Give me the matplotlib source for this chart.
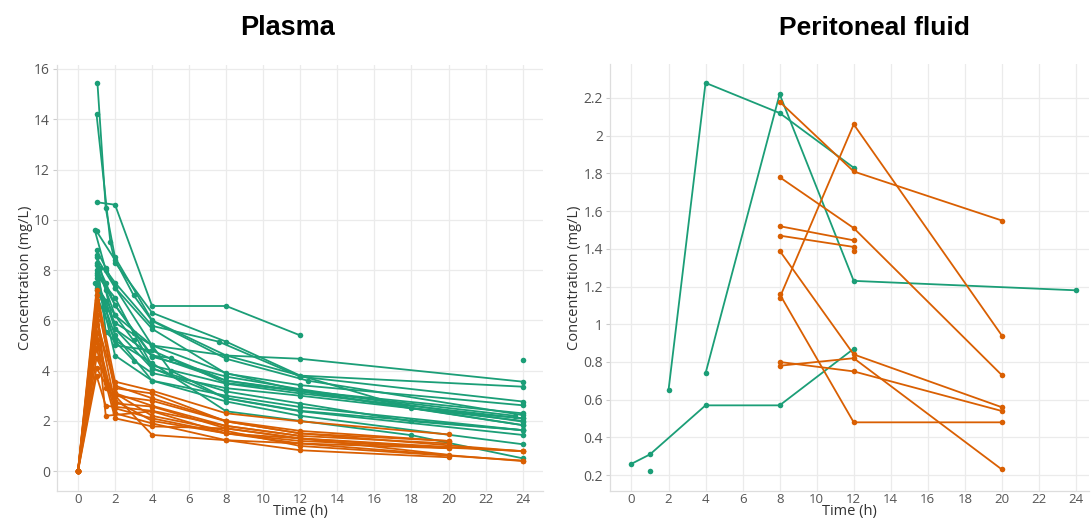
import matplotlib.pyplot as plt
from matplotlib.ticker import FuncFormatter, MultipleLocator

teal = "#1b9e77"
orange = "#d95f02"

# Plasma, group 1 (teal): sampling times and concentrations per subject
plasmaTealTimes = [
    [1, 2, 4, 8, 12],
    [1.05, 1.5, 2, 4, 8, 12, 24],
    [1, 1.75, 2, 4, 8, 12, 24],
    [0.9, 1.5, 2, 4, 7.6, 12, 24],
    [1, 2, 3, 4, 8, 12.4, 24],
    [1, 1.5, 2, 4, 8, 12, 24],
    [1, 2, 4, 8, 12, 18, 24],
    [1, 1.5, 2, 4, 8, 12, 24],
    [1, 2, 4, 8, 12, 24],
    [1, 2, 3, 4, 8, 12, 24],
    [0.9, 1.5, 2, 4, 8, 12, 18, 24],
    [1, 2, 4, 5, 8, 12, 24],
    [1, 1.5, 2, 4, 8, 12, 24],
    [1, 2, 4, 8, 12, 18, 24],
    [1, 1.5, 3, 4, 8, 12, 24],
    [1, 2, 4, 8, 12, 24],
    [1, 2, 4, 8, 12, 23.6],
    [1.2, 2, 4, 5, 8, 12, 24],
    [1, 2, 3, 4, 8, 12, 24],
    [1, 1.5, 2, 4, 8, 12, 24],
    [24],
]
plasmaTealConc = [
    [10.7, 10.6, 6.57, 6.57, 5.4],
    [15.45, 10.45, 8.5, 6.0, 4.6, 4.47, 3.56],
    [14.2, 9.1, 8.3, 6.3, 5.15, 3.8, 3.36],
    [9.6, 8.0, 7.5, 5.78, 5.15, 3.76, 2.77],
    [9.55, 8.4, 7.0, 5.98, 4.47, 3.6, 2.23],
    [8.8, 8.1, 7.3, 5.66, 3.88, 3.42, 2.62],
    [8.5, 7.3, 5.0, 4.6, 3.8, 2.5, 2.1],
    [8.3, 7.5, 6.6, 4.55, 3.76, 3.26, 1.97],
    [8.0, 6.6, 4.6, 3.6, 3.17, 1.83],
    [7.8, 6.9, 5.5, 4.2, 3.48, 3.09, 2.1],
    [7.5, 6.77, 5.66, 4.08, 3.17, 2.69, 1.98, 1.63],
    [7.3, 5.9, 5.0, 4.0, 2.89, 2.38, 1.44],
    [7.2, 6.45, 5.4, 3.6, 2.77, 2.2, 1.07],
    [7.0, 5.2, 4.3, 2.38, 2.0, 1.43, 0.51],
    [8.6, 5.54, 4.4, 3.9, 3.3, 3.0, 2.0],
    [7.7, 4.6, 3.6, 3.0, 2.55, 1.63],
    [7.9, 5.0, 4.8, 3.5, 3.2, 2.2],
    [8.1, 5.66, 4.6, 4.5, 3.6, 3.2, 1.83],
    [7.4, 6.2, 5.2, 4.1, 2.9, 2.4, 1.63],
    [8.2, 7.2, 6.2, 5.0, 3.9, 3.2, 2.3],
    [4.41],
]

# Plasma, group 2 (orange)
plasmaOrangeTimes = [
    [0, 1, 2, 4, 8, 12, 20],
    [0, 1, 2, 4, 8, 12, 24],
    [0, 1, 1.5, 2, 4, 8, 12, 20],
    [0, 1, 2, 4, 8, 12, 20],
    [0, 1, 1.5, 4, 8, 12, 24],
    [0, 1, 2, 4, 8, 12, 20],
    [0, 1, 2, 4, 8, 12, 20],
    [0, 1, 2, 4, 8, 12, 24],
    [0, 1, 2, 4, 8, 12, 20],
    [0, 1, 2, 4, 8, 12, 24],
    [0, 1, 1.5, 4, 8, 12],
    [0, 1, 2, 4, 8, 12, 20],
    [0, 1, 2, 4, 8, 12, 24],
    [0, 1, 1.5, 2, 4, 8, 12, 20],
]
plasmaOrangeConc = [
    [0, 7.2, 3.56, 3.2, 2.3, 1.98, 1.46],
    [0, 6.8, 3.3, 3.09, 1.98, 1.5, 0.79],
    [0, 6.5, 3.3, 3.0, 2.8, 1.98, 1.5, 1.2],
    [0, 6.2, 2.69, 2.57, 1.7, 1.3, 0.91],
    [0, 5.8, 2.2, 2.38, 1.5, 1.1, 0.4],
    [0, 5.5, 2.5, 2.1, 1.5, 1.3, 0.65],
    [0, 5.2, 2.3, 1.9, 1.23, 0.83, 0.55],
    [0, 4.9, 2.1, 1.78, 1.7, 1.3, 0.79],
    [0, 4.5, 3.0, 1.44, 1.23, 1.1, 0.91],
    [0, 4.1, 2.8, 2.0, 1.5, 1.2, 0.8],
    [0, 3.8, 2.6, 2.4, 1.8, 1.4],
    [0, 6.0, 3.4, 2.9, 2.0, 1.6, 1.2],
    [0, 7.0, 3.1, 2.2, 1.6, 1.0, 0.42],
    [0, 6.6, 3.5, 3.1, 2.6, 1.8, 1.4, 1.1],
]

# Peritoneal fluid
periTealTimes = [
    [2, 4, 8, 12],
    [4, 8, 12, 24],
    [0, 1, 4, 8, 12],
    [1],
]
periTealConc = [
    [0.65, 2.28, 2.12, 1.83],
    [0.74, 2.22, 1.23, 1.18],
    [0.26, 0.31, 0.57, 0.57, 0.87],
    [0.22],
]
periOrangeTimes = [
    [8, 12, 20],
    [8, 12, 20],
    [8, 12],
    [8, 12],
    [8, 12, 20],
    [8, 12, 20],
    [8, 12, 20],
    [8, 12, 20],
    [8, 12, 20],
    [12],
]
periOrangeConc = [
    [2.18, 1.81, 1.55],
    [1.78, 1.51, 0.73],
    [1.52, 1.445],
    [1.47, 1.41],
    [1.39, 0.84, 0.56],
    [1.14, 2.06, 0.94],
    [1.16, 0.48, 0.48],
    [0.80, 0.75, 0.54],
    [0.78, 0.82, 0.23],
    [1.39],
]

xTicks = list(range(0, 25, 2))


def styleAxis(ax, xlim, ylim, ystep):
    ax.set_xlim(*xlim)
    ax.set_ylim(*ylim)
    ax.set_xticks(xTicks)
    ax.yaxis.set_major_locator(MultipleLocator(ystep))
    ax.yaxis.set_major_formatter(FuncFormatter(lambda v, p: "%g" % round(v, 2)))
    ax.grid(True, color="#ebebeb", linewidth=0.9)
    ax.set_axisbelow(True)
    for s in ["top", "right"]:
        ax.spines[s].set_visible(False)
    for s in ["left", "bottom"]:
        ax.spines[s].set_color("#dddddd")
        ax.spines[s].set_linewidth(0.9)
    ax.tick_params(axis="y", length=3, width=0.8, color="#cccccc",
                   labelsize=10, labelcolor="#555555", pad=2)
    ax.tick_params(axis="x", length=0, labelsize=9.5, labelcolor="#555555", pad=1.5)
    for lab in ax.get_xticklabels() + ax.get_yticklabels():
        lab.set_family("Open Sans")
    ax.set_xlabel("Time (h)", fontsize=10.5, color="#333333",
                  family="Open Sans", labelpad=-1.5)
    ax.set_ylabel("Concentration (mg/L)", fontsize=10.5, color="#333333",
                  family="Open Sans", labelpad=1)


def drawGroup(ax, timesList, concList, color):
    for times, conc in zip(timesList, concList):
        ax.plot(times, conc, "-o", color=color, linewidth=1.3,
                markersize=4, markeredgewidth=0)


fig = plt.figure(figsize=(10.91, 5.19), dpi=100)
ax1 = fig.add_axes([0.0522, 0.0540, 0.4455, 0.8208])
ax2 = fig.add_axes([0.5591, 0.0540, 0.439, 0.8227])

drawGroup(ax1, plasmaTealTimes, plasmaTealConc, teal)
drawGroup(ax1, plasmaOrangeTimes, plasmaOrangeConc, orange)
styleAxis(ax1, (-1.135, 25.1), (-0.79, 16.16), 2)

drawGroup(ax2, periTealTimes, periTealConc, teal)
drawGroup(ax2, periOrangeTimes, periOrangeConc, orange)
styleAxis(ax2, (-1.16, 24.7), (0.116, 2.38), 0.2)

fig.text(288 / 1091, 1 - 28 / 519, "Plasma", ha="center", va="center",
         fontsize=19.5, fontweight="bold", family="Liberation Sans")
fig.text(874 / 1091, 1 - 28 / 519, "Peritoneal fluid", ha="center", va="center",
         fontsize=19, fontweight="bold", family="Liberation Sans")

fig.savefig("out.png", dpi=100)
